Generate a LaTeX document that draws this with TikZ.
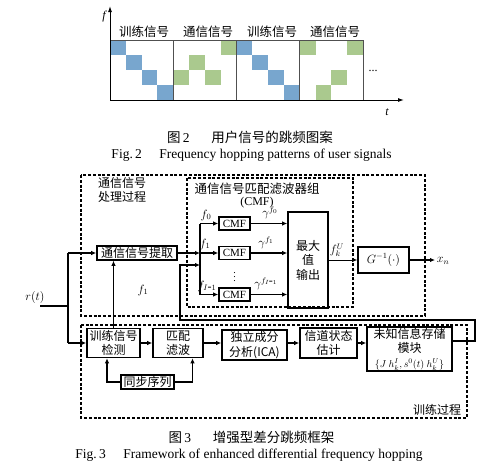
\documentclass[tikz,border=0pt]{standalone}
\usepackage{fontspec}
\setmainfont{Liberation Serif}
\newfontfamily\cjk{Noto Sans CJK SC}
\usetikzlibrary{arrows.meta}
\definecolor{hopblue}{RGB}{120,166,206}
\definecolor{hopgreen}{RGB}{170,201,142}
\definecolor{gridgray}{RGB}{80,80,80}
\begin{document}
\begin{tikzpicture}[x=1pt,y=-1pt,
  zh/.style={font=\cjk\fontsize{12}{14.5}\selectfont},
  blk/.style={draw, line width=1.6pt, inner sep=0.5pt, align=center, zh},
  dbox/.style={draw, line width=1.3pt, dash pattern=on 3pt off 1.8pt},
  conn/.style={line width=1.5pt, -{Latex[length=5pt,width=4.5pt]}},
  thinconn/.style={line width=0.8pt, -{Latex[length=5pt,width=4.5pt]}},
  plain/.style={line width=1.5pt},
  lbl/.style={font=\fontsize{12}{14}\selectfont, inner sep=0pt},
  captxt/.style={font=\fontsize{13.5}{15}\selectfont, inner sep=0pt},
]
\useasboundingbox (0,0) rectangle (485,467);

% ---------------- Fig. 2 ----------------
\def\cw{15.8125}
\def\ch{15}
\foreach \bx/\col/\cells in {110/hopblue/{0/0,1/1,2/2,3/3},
                             173.25/hopgreen/{3/0,1/1,0/2,2/2},
                             236.5/hopblue/{0/0,1/1,2/2,3/3},
                             299.75/hopgreen/{0/0,3/0,2/2,1/3}}{
  \foreach \c/\r in \cells {
    \fill[\col] ({\bx+\c*\cw},{40+\r*\ch}) rectangle ({\bx+(\c+1)*\cw},{40+(\r+1)*\ch});
  }
}
\draw[gridgray, line width=0.8pt] (110,40) rectangle (363,100);
\foreach \xx in {173.25,236.5,299.75} \draw[gridgray, line width=0.8pt] (\xx,40) -- (\xx,100);
\coordinate (O) at (110,100);
\coordinate (fend) at (110,6);
\coordinate (tend) at (404,100);
\draw[line width=1pt, -{Latex[length=6pt,width=4pt]}] (O) -- (fend);
\draw[line width=1pt, -{Latex[length=6pt,width=4pt]}] (O) -- (tend);
\node[lbl, font=\itshape\fontsize{12}{14}\selectfont] (flab) at (104,17) {f};
\node[lbl, font=\itshape\fontsize{12}{14}\selectfont] (tlab) at (387,112) {t};
\node[zh, font=\cjk\fontsize{12.5}{14}\selectfont, inner sep=0pt] (h1) at (144,32) {训练信号};
\node[zh, font=\cjk\fontsize{12.5}{14}\selectfont, inner sep=0pt] (h2) at (208,32) {通信信号};
\node[zh, font=\cjk\fontsize{12.5}{14}\selectfont, inner sep=0pt] (h3) at (272,32) {训练信号};
\node[zh, font=\cjk\fontsize{12.5}{14}\selectfont, inner sep=0pt] (h4) at (335,32) {通信信号};
\node[lbl] (dots) at (373,71) {...};
\node[captxt] (cap2zh) at (250,137) {{\cjk 图}\,2\hspace{1.6em}{\cjk 用户信号的跳频图案}};
\node[captxt] (cap2en) at (251.5,155) {Fig.\,2\hspace{1.3em}Frequency hopping patterns of user signals};

% ---------------- Fig. 3 ----------------
\draw[dbox] (81,175) rectangle (425,316);
\draw[dbox] (187,178) rectangle (353,307);
\draw[dbox] (81,325) rectangle (467,418);

\node[zh, anchor=north west, align=left, inner sep=0pt] (lab1) at (98,177) {通信信号\\处理过程};
\node[zh, font=\cjk\fontsize{12.5}{14}\selectfont, inner sep=0pt] (lab2) at (257,189) {通信信号匹配滤波器组};
\node[lbl] (lab3) at (257,203) {(CMF)};
\node[zh, inner sep=0pt] (lab4) at (437,410) {训练过程};

\node[blk, minimum width=80pt, minimum height=14pt] (ext) at (137,253) {通信信号提取};
\node[blk, font=\fontsize{11}{13}\selectfont, minimum width=31pt, minimum height=13pt] (cmf0) at (234.5,223.5) {CMF};
\node[blk, font=\fontsize{11}{13}\selectfont, minimum width=31pt, minimum height=13pt] (cmf1) at (234.5,253) {CMF};
\node[blk, font=\fontsize{11}{13}\selectfont, minimum width=31pt, minimum height=13pt] (cmf2) at (234.5,294.5) {CMF};
\node[lbl, font=\fontsize{10}{12}\selectfont] (vdots) at (234.5,274) {$\vdots$};
\node[blk, minimum width=40pt, minimum height=96pt] (max) at (308,260) {最大\\值\\输出};
\node[blk, font=\fontsize{11.5}{13}\selectfont, minimum width=51pt, minimum height=26pt] (G) at (383.5,260) {$G^{-1}(\cdot)$};
\node[lbl] (xn) at (443,261) {$x_n$};

\node[blk, minimum width=53pt, minimum height=29pt] (det) at (113.5,343) {训练信号\\检测};
\node[blk, minimum width=50pt, minimum height=29pt] (mf) at (178,343) {匹配\\滤波};
\node[blk, minimum width=65pt, minimum height=30pt] (ica) at (254.5,345) {独立成分\\分析(ICA)};
\node[blk, minimum width=57pt, minimum height=30pt] (cse) at (328.5,343) {信道状态\\估计};
\node[blk, minimum width=85pt, minimum height=44pt] (unk) at (409.5,349) {未知信息存储\\模块\\{\fontsize{10}{12}\selectfont$\{J\ h^{I}_{k},s^{0}(t)\ h^{U}_{k}\}$}};
\node[blk, minimum width=53pt, minimum height=14pt] (sync) at (147.5,382) {同步序列};

% input r(t)
\node[lbl] (rt) at (35,297) {$r(t)$};
\coordinate (rin) at (40,306);
\coordinate (j1) at (68,306);
\coordinate (jt) at (68,253);
\coordinate (jb) at (68,343);
\draw[plain] (rin) -- (j1);
\draw[plain] (jt) -- (jb);
\draw[conn] (jt) -- (ext.west);
\draw[conn] (jb) -- (det.west);
\draw[thinconn] (det.north) -- (det.north |- ext.south);

% bus to CMFs
\coordinate (b0) at (200,223.5);
\coordinate (b1) at (200,253);
\coordinate (b2) at (200,294.5);
\coordinate (b3) at (200,265);
\draw[plain] (b0) -- (b2);
\draw[conn] (ext.east) -- (b1);
\draw[conn] (b0) -- (cmf0.west);
\draw[conn] (b1) -- (cmf1.west);
\draw[conn] (b2) -- (cmf2.west);
\node[lbl] (f0) at (206,215) {$f_0$};
\node[lbl] (f1) at (205,244) {$f_1$};
\node[lbl] (fI) at (207,286) {$f_{I\mbox{-}1}$};
\node[lbl] (f1b) at (143,290) {$f_1$};

% CMF -> max
\draw[conn] (cmf0.east) -- (cmf0.east -| max.west);
\draw[conn] (cmf1.east) -- (cmf1.east -| max.west);
\draw[conn] (cmf2.east) -- (cmf2.east -| max.west);
\node[lbl] (g0) at (270,213) {$\gamma^{f_0}$};
\node[lbl] (g1) at (266,243) {$\gamma^{f_1}$};
\node[lbl] (g2) at (266,284) {$\gamma^{f_{I\mbox{-}1}}$};

\draw[thinconn] (max.east) -- (G.west);
\node[lbl] (fku) at (337,250) {$f^{U}_{k}$};
\coordinate (gout) at (435,260);
\draw[conn] (G.east) -- (gout);

% training chain
\draw[conn] (det.east) -- (mf.west);
\draw[conn] (mf.east) -- (mf.east -| ica.west);
\draw[conn] (cse.west -| ica.east) -- (cse.west);
\draw[conn] (cse.east) -- (cse.east -| unk.west);
\draw[conn] (sync.west) -| ([xshift=-6.5pt]det.south);
\draw[conn] (sync.east) -| ([xshift=14.5pt]mf.south);

% feedback
\coordinate (fb0) at (452,341);
\coordinate (fb1) at (475,341);
\coordinate (fb2) at (475,320);
\coordinate (fb3) at (180,320);
\coordinate (fb4) at (180,265);
\draw[conn] (fb0) -- (fb1) -- (fb2) -- (fb3) -- (fb4) -- (b3);

\node[captxt] (cap3zh) at (251.5,437) {{\cjk 图}\,3\hspace{1.6em}{\cjk 增强型差分跳频框架}};
\node[captxt] (cap3en) at (249,455) {Fig.\,3\hspace{1.3em}Framework of enhanced differential frequency hopping};
\end{tikzpicture}
\end{document}
